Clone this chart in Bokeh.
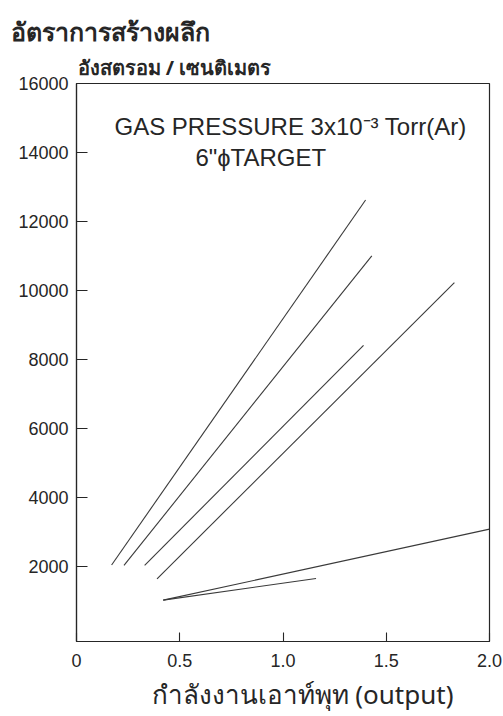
from bokeh.plotting import figure
from bokeh.models import Label, FixedTicker, Range1d, ColumnDataSource, Title
from bokeh.embed import file_html
from bokeh.resources import INLINE

# ---- data ----
power_start = [0.17, 0.23, 0.33, 0.39, 0.42, 0.42]
power_end = [1.40, 1.43, 1.39, 1.83, 2.00, 1.16]
rate_start = [2030, 2020, 2020, 1630, 1010, 1010]
rate_end = [12620, 11000, 8400, 10220, 3070, 1640]

x_ticks = [0, 0.5, 1.0, 1.5, 2.0]
x_tick_labels = ["0", "0.5", "1.0", "1.5", "2.0"]
y_ticks = [2000, 4000, 6000, 8000, 10000, 12000, 14000, 16000]
y_tick_labels = ["2000", "4000", "6000", "8000", "10000", "12000", "14000", "16000"]

title_text = "อัตราการสร้างผลึก"
y_unit_text = "อังสตรอม / เซนติเมตร"
x_label_text = "กำลังงานเอาท์พุท (output)"
note_pressure = "GAS PRESSURE 3x10⁻³ Torr(Ar)"
note_target = "6\"ɸTARGET"

INK = "#262626"
LATIN = "Liberation Sans"
THAI = "Noto Sans"

src = ColumnDataSource(dict(x0=power_start, y0=rate_start, x1=power_end, y1=rate_end))

p = figure(
    title=None,
    frame_width=413, frame_height=558,
    x_range=Range1d(0, 2.0), y_range=Range1d(-190, 16000),
    output_backend="svg", toolbar_location=None,
    min_border_left=76, min_border_right=14, min_border_top=83, min_border_bottom=74,
)
p.background_fill_color = "white"
p.border_fill_color = "white"
p.grid.visible = False
p.outline_line_color = INK
p.outline_line_width = 1.2

p.segment(x0="x0", y0="y0", x1="x1", y1="y1", source=src, line_color="#3a3a3a", line_width=1.1)

p.xaxis.ticker = FixedTicker(ticks=x_ticks)
p.xaxis.major_label_overrides = {t: l for t, l in zip(x_ticks, x_tick_labels)}
p.yaxis.ticker = FixedTicker(ticks=y_ticks)
p.yaxis.major_label_overrides = {t: l for t, l in zip(y_ticks, y_tick_labels)}

for ax in (p.xaxis, p.yaxis):
    ax.major_tick_out = 0
    ax.minor_tick_line_color = None
    ax.axis_line_color = INK
    ax.axis_line_width = 1.2
    ax.major_tick_line_color = INK
    ax.major_tick_line_width = 1.1
    ax.major_label_text_font = LATIN
    ax.major_label_text_font_size = "18px"
    ax.major_label_text_color = INK
p.xaxis.major_tick_in = 9
p.xaxis.major_label_standoff = 12
p.yaxis.major_tick_in = 11
p.yaxis.major_label_standoff = 8

# titles outside the frame
p.add_layout(Title(text=y_unit_text, align="left", offset=1, text_font=THAI,
                   text_font_size="20px", text_font_style="bold", text_color=INK,
                   standoff=5), "above")
p.add_layout(Title(text=title_text, align="left", offset=-66, text_font=THAI,
                   text_font_size="25px", text_font_style="bold", text_color=INK,
                   standoff=3), "above")
p.add_layout(Title(text=x_label_text, align="left", offset=75, text_font=THAI,
                   text_font_size="26px", text_font_style="normal", text_color=INK,
                   standoff=8), "below")

def add_note(text, sx, sy, size):
    p.add_layout(Label(
        x=sx, y=sy, x_units="screen", y_units="screen", text=text,
        text_font=LATIN, text_font_size=size,
        text_color=INK, text_align="left", text_baseline="alphabetic",
    ))

add_note(note_pressure, 38, 515, "24px")
add_note(note_target, 119, 484, "24px")

open("out.html", "w").write(file_html(p, INLINE))
